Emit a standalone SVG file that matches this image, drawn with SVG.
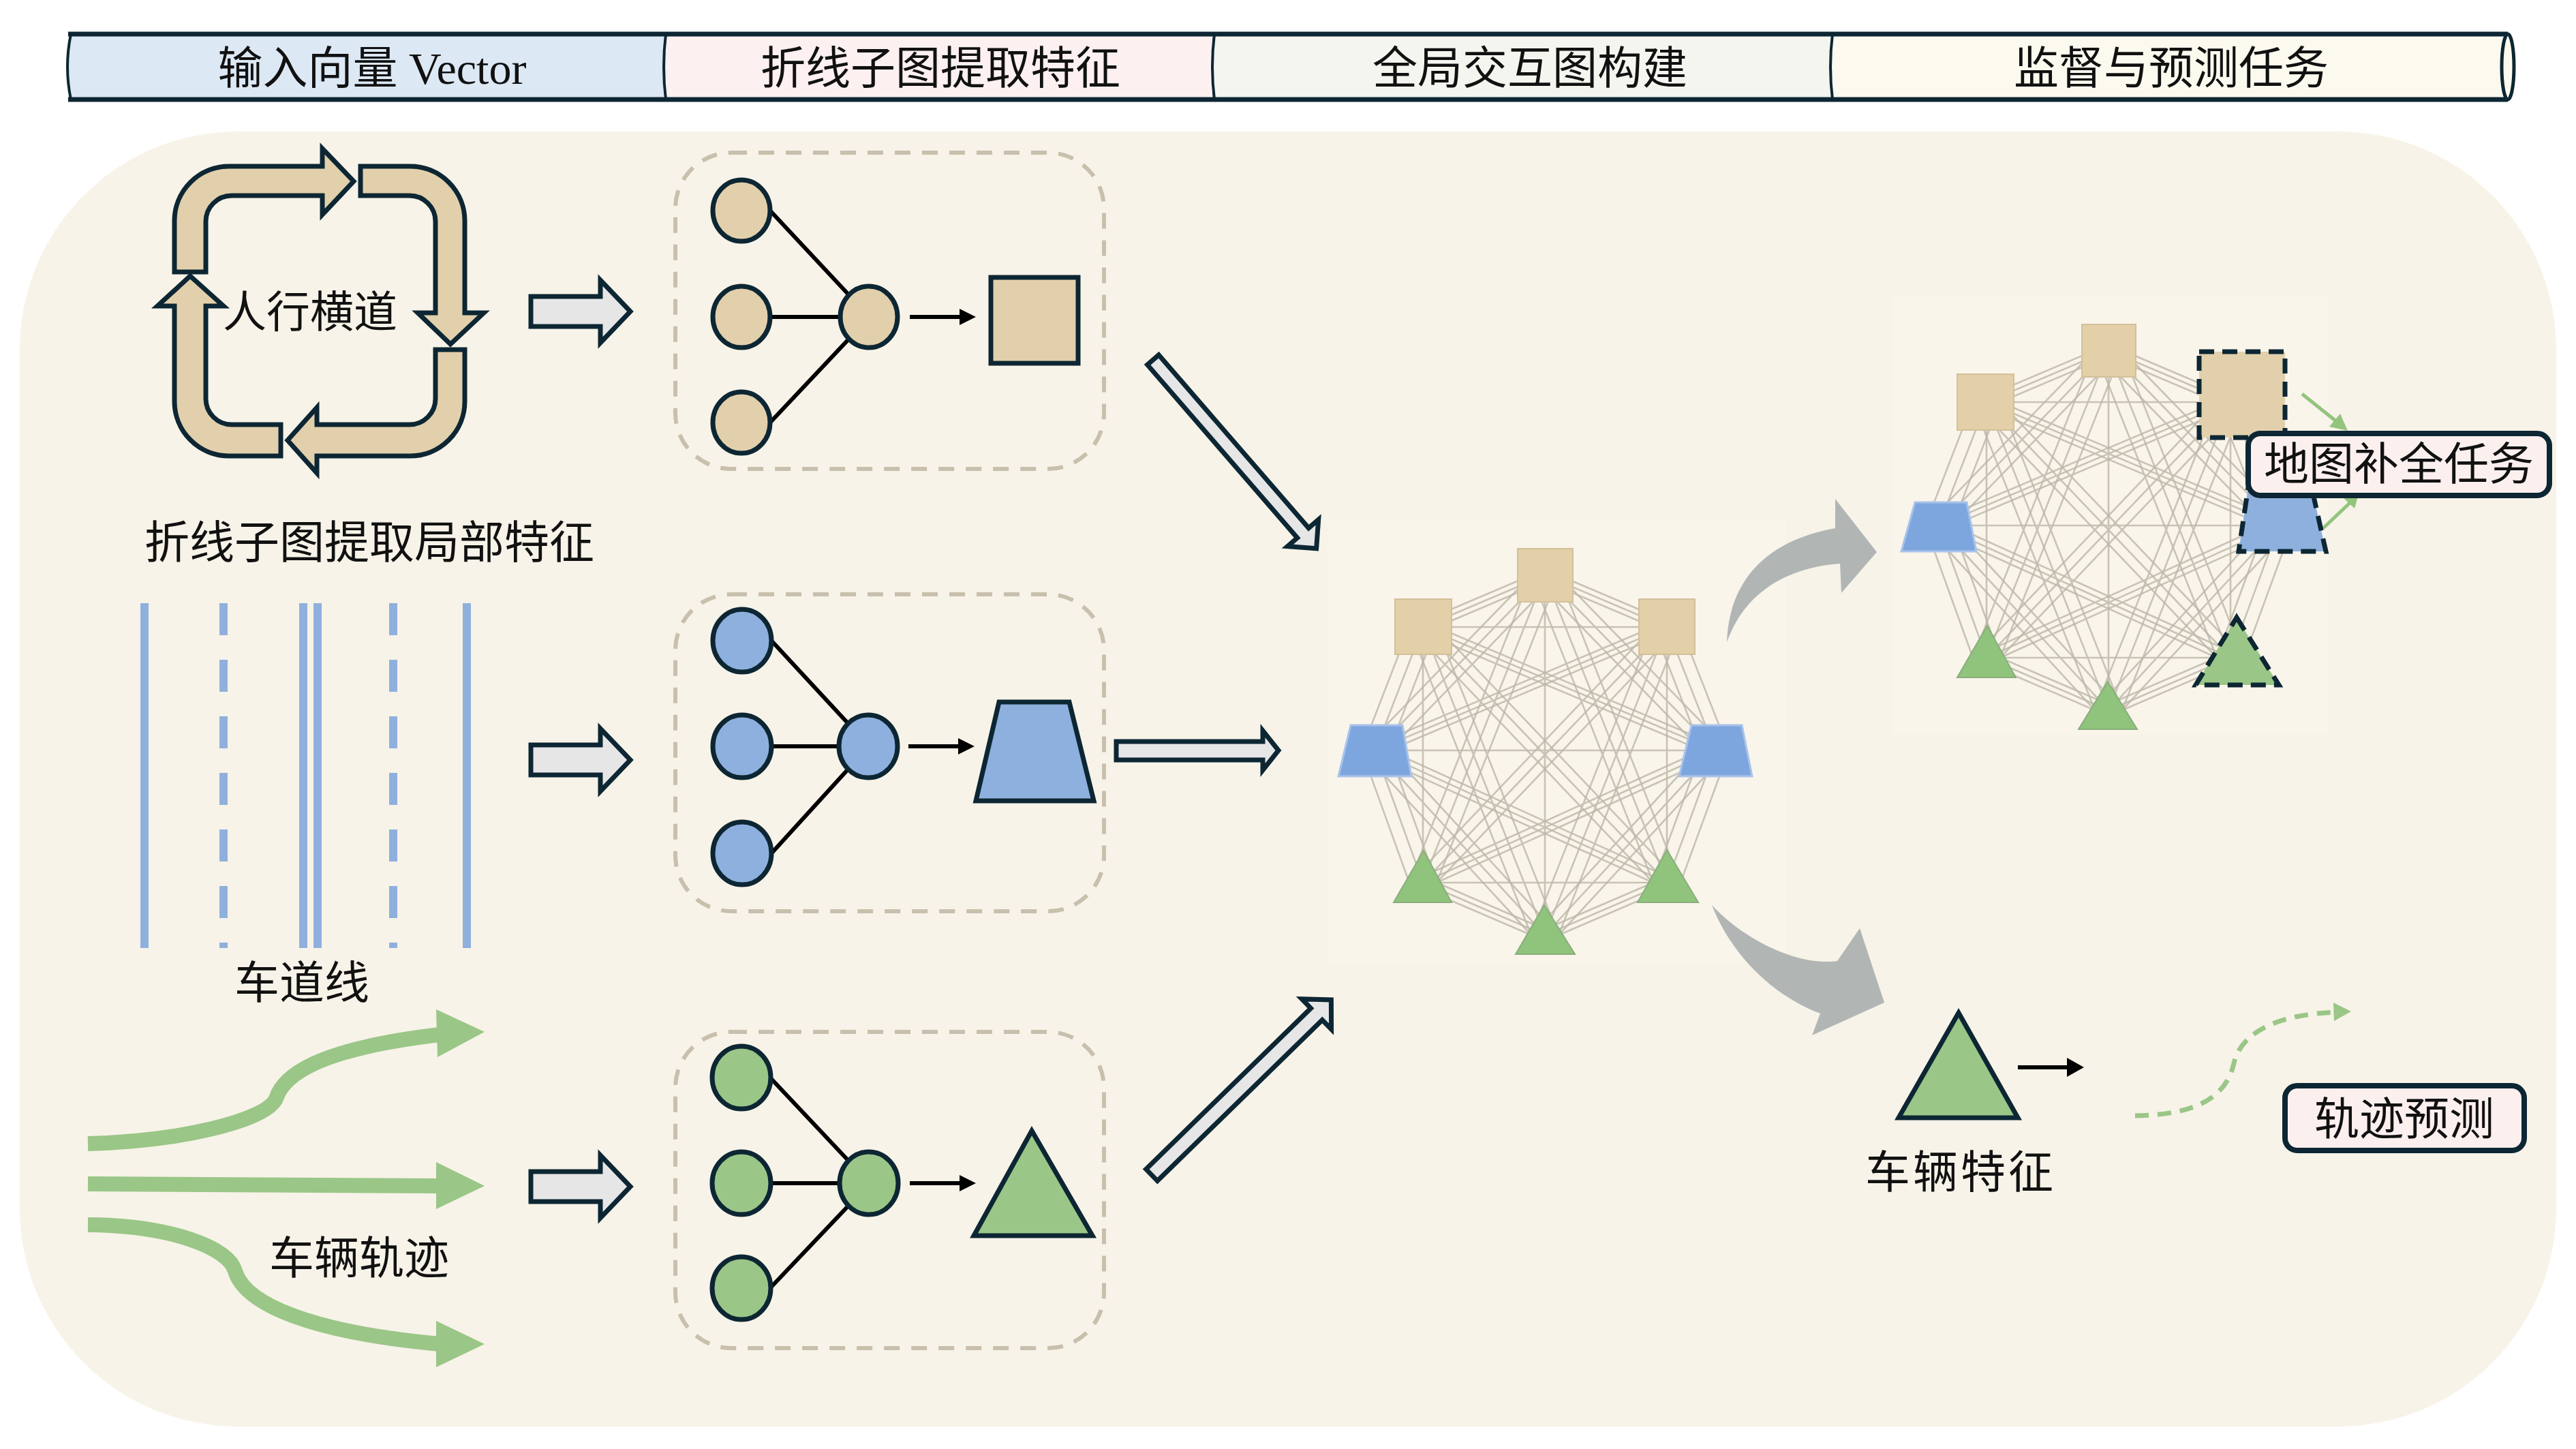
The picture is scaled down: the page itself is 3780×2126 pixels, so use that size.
<svg xmlns="http://www.w3.org/2000/svg" xmlns:xlink="http://www.w3.org/1999/xlink" width="3780" height="2126" viewBox="0 0 3780 2126">
<style>
.t{font-family:"Liberation Serif","Noto Sans CJK SC",serif;font-size:66px;fill:#111;text-anchor:middle}
.dk{stroke:#0d2633;stroke-width:7;stroke-linejoin:miter}
.tan{fill:#e2d0ac}
.blu{fill:#8eb0de}
.grn{fill:#9ac687}
.box{fill:none;stroke:#c8bfad;stroke-width:6;stroke-dasharray:23 17}
.ln{stroke:#000;stroke-width:6;fill:none}
.blk{fill:#e6e6e6;stroke:#0d2633;stroke-width:7;stroke-linejoin:miter}
.gry{fill:#b1b6b5}
.mesh{fill:none;stroke:#bdb7a8;stroke-width:2.6;opacity:0.8}
.gtan{fill:#e3cfa8;stroke:#d3c09a;stroke-width:2}
.gblu{fill:#7ea6de;stroke:#a9c3ea;stroke-width:3}
.ggrn{fill:#90c47c;stroke:#8aad7d;stroke-width:2}
.dash{stroke:#0d2633;stroke-width:7;stroke-dasharray:22 12}
.lane{stroke:#8fb0dd;stroke-width:12}
.traj{fill:none;stroke:#9ac687;stroke-width:22}
.tag{fill:#fcf0ef;stroke:#0d2633;stroke-width:8}
.ga{stroke:#93c47d;stroke-width:5;fill:none}
</style>
<defs>
<g id="mesh">
<path class="mesh" d="M2267,844L2088,920M2267,844L2446,920M2267,844L2018,1101M2267,844L2517,1101M2267,844L2088,1295M2267,844L2446,1295M2267,844L2267,1372M2088,920L2446,920M2088,920L2018,1101M2088,920L2517,1101M2088,920L2088,1295M2088,920L2446,1295M2088,920L2267,1372M2446,920L2018,1101M2446,920L2517,1101M2446,920L2088,1295M2446,920L2446,1295M2446,920L2267,1372M2018,1101L2517,1101M2018,1101L2088,1295M2018,1101L2446,1295M2018,1101L2267,1372M2517,1101L2088,1295M2517,1101L2446,1295M2517,1101L2267,1372M2088,1295L2446,1295M2088,1295L2267,1372M2446,1295L2267,1372"/>
<path class="mesh" d="M2247,844L2068,920M2247,844L2426,920M2247,844L1998,1101M2247,844L2497,1101M2247,844L2068,1295M2247,844L2426,1295M2068,920L1998,1101M2068,920L2497,1101M2068,920L2426,1295M2068,920L2247,1372M2426,920L1998,1101M2426,920L2497,1101M2426,920L2068,1295M2426,920L2247,1372M1998,1101L2068,1295M1998,1101L2426,1295M1998,1101L2247,1372M2497,1101L2068,1295M2497,1101L2426,1295M2497,1101L2247,1372M2068,1295L2247,1372M2426,1295L2247,1372"/>
<path class="mesh" d="M2287,844L2108,920M2287,844L2466,920M2287,844L2038,1101M2287,844L2537,1101M2287,844L2108,1295M2287,844L2466,1295M2108,920L2038,1101M2108,920L2537,1101M2108,920L2466,1295M2108,920L2287,1372M2466,920L2038,1101M2466,920L2537,1101M2466,920L2108,1295M2466,920L2287,1372M2038,1101L2108,1295M2038,1101L2466,1295M2038,1101L2287,1372M2537,1101L2108,1295M2537,1101L2466,1295M2537,1101L2287,1372M2108,1295L2287,1372M2466,1295L2287,1372"/>
</g>
<path id="blkArrow" class="blk" d="M0,-22L102,-22L102,-46L146,0L102,46L102,22L0,22Z"/>
</defs>

<rect width="3780" height="2126" fill="#ffffff"/>
<rect id="panel" x="29" y="193" width="3722" height="1900" rx="320" ry="320" fill="#f7f3e8"/>
<rect x="1948" y="762" width="672" height="650" fill="#f9f5eb"/>
<rect x="2776" y="433" width="640" height="645" fill="#f9f5eb"/>

<g id="header">
<path d="M104,50 L977,50 L977,146 L104,146 Q94,98 104,50Z" fill="#dce8f4"/>
<rect x="977" y="50" width="805" height="96" fill="#fcf0f0"/>
<rect x="1782" y="50" width="907" height="96" fill="#f3f5ee"/>
<rect x="2689" y="50" width="991" height="96" fill="#fcfaef"/>
<path d="M100,50 L3680,50 M100,146 L3680,146" stroke="#0d2633" stroke-width="7" fill="none"/>
<path d="M104,50 Q94,98 104,146 M977,50 Q971,98 977,146 M1782,50 Q1776,98 1782,146 M2689,50 Q2683,98 2689,146" stroke="#0d2633" stroke-width="4" fill="none"/>
<ellipse cx="3680" cy="98" rx="9" ry="48" fill="#fcfaef" stroke="#0d2633" stroke-width="5"/>
<text class="t" x="546" y="123">输入向量 Vector</text>
<text class="t" x="1380" y="123">折线子图提取特征</text>
<text class="t" x="2245" y="123">全局交互图构建</text>
<text class="t" x="3186" y="123">监督与预测任务</text>
</g>

<g id="connectors">
<use href="#mesh"/>
<use href="#mesh" transform="translate(827,-330)"/>
<use href="#blkArrow" x="779" y="457"/>
<use href="#blkArrow" x="779" y="1115"/>
<use href="#blkArrow" x="779" y="1741"/>
<path class="blk" stroke-width="6" d="M1638,1088L1853,1088L1853,1072L1876,1101L1853,1130L1853,1115L1638,1115Z"/>
<path class="blk" stroke-width="6" transform="translate(1692,528) rotate(49.1)" d="M0,-11L336,-11L336,-30L366,0L336,30L336,11L0,11Z"/>
<path class="blk" stroke-width="6" transform="translate(1690,1724) rotate(-44.3)" d="M0,-12L338,-12L338,-31L368,0L338,31L338,12L0,12Z"/>
<path class="gry" d="M2534,942 C2536,880 2565,798 2693,775 L2693,732 L2754,810 L2702,870 L2700,827 C2620,833 2560,870 2534,942Z"/>
<path class="gry" d="M2512,1328 C2560,1380 2640,1418 2696,1410 L2729,1362 L2765,1471 L2659,1519 L2671,1487 C2600,1460 2540,1400 2512,1328Z"/>
<path class="ln" d="M1130,309L1245,432M1130,465L1232,465M1130,620L1245,498"/>
<path class="ln" d="M1335,465L1410,465"/><path d="M1408,453L1432,465L1408,477Z"/>
<path class="ln" d="M1132,940L1245,1062M1132,1095L1230,1095M1132,1252L1245,1128"/>
<path class="ln" d="M1333,1095L1408,1095"/><path d="M1406,1083L1430,1095L1406,1107Z"/>
<path class="ln" d="M1130,1581L1245,1703M1130,1736L1232,1736M1130,1890L1245,1769"/>
<path class="ln" d="M1335,1736L1410,1736"/><path d="M1408,1724L1432,1736L1408,1748Z"/>
<path class="ln" d="M2961,1566L3036,1566" stroke-width="7"/><path d="M3033,1552L3058,1566L3033,1580Z"/>
<path class="ga" d="M3378,578L3428,618"/><path d="M3418,626L3445,632L3434,607Z" fill="#93c47d"/>
<path class="ga" d="M3409,775L3448,738"/><path d="M3439,731L3462,722L3455,746Z" fill="#93c47d"/>
<path d="M3133,1637 C3230,1636 3268,1605 3278,1560 C3290,1510 3350,1488 3428,1485" fill="none" stroke="#9ac687" stroke-width="7" stroke-dasharray="20 13"/>
<path d="M3424,1471L3450,1484L3425,1498Z" fill="#9ac687"/>
</g>

<g id="crosswalk">
<g class="tan dk">
<path d="M256,399 L256,324 A80,80 0 0 1 336,244 L473,244 L473,218 L519,266 L473,315 L473,287 L340,287 A38,38 0 0 0 302,325 L302,399 Z"/>
<path d="M529,244 L602,244 A80,80 0 0 1 682,324 L682,459 L710,459 L661,505 L613,459 L639,459 L639,325 A38,38 0 0 0 601,287 L529,287 Z"/>
<path d="M639,513 L682,513 L682,589 A80,80 0 0 1 602,669 L465,669 L465,694 L422,646 L465,598 L465,623 L601,623 A38,38 0 0 0 639,585 Z"/>
<path d="M412,669 L336,669 A80,80 0 0 1 256,589 L256,449 L231,449 L279,405 L328,449 L302,449 L302,585 A38,38 0 0 0 340,623 L412,623 Z"/>
</g>
<text class="t" x="455" y="480" style="font-size:64px">人行横道</text>
</g>
<text class="t" x="542" y="819">折线子图提取局部特征</text>

<g id="lanes">
<path class="lane" d="M212,885V1391M445,885V1391M466,885V1391M685,885V1391"/>
<path class="lane" d="M328,885V1391M577,885V1391" stroke-dasharray="47 36"/>
<text class="t" x="443" y="1465">车道线</text>
</g>

<g id="trajectories">
<path class="traj" d="M129,1678 C260,1675 390,1645 405,1612 C415,1580 460,1540 645,1518"/>
<path class="grn" d="M640,1481L711,1514L642,1551Z"/>
<path class="traj" d="M129,1737 L645,1740"/>
<path class="grn" d="M640,1705L711,1740L640,1774Z"/>
<path class="traj" d="M129,1797 C250,1798 335,1830 345,1865 C360,1915 460,1955 645,1972"/>
<path class="grn" d="M640,1938L711,1972L640,2006Z"/>
<text class="t" x="527" y="1869">车辆轨迹</text>
</g>

<g id="subgraph-crosswalk">
<rect class="box" x="991" y="224" width="629" height="464" rx="82"/>
<g class="tan dk">
<ellipse cx="1088" cy="309" rx="42" ry="45"/>
<ellipse cx="1088" cy="465" rx="42" ry="45"/>
<ellipse cx="1088" cy="620" rx="42" ry="45"/>
<ellipse cx="1275" cy="465" rx="42" ry="45"/>
<rect x="1454" y="407" width="128" height="126"/>
</g>
</g>

<g id="subgraph-lane">
<rect class="box" x="991" y="872" width="629" height="465" rx="82"/>
<g class="blu dk">
<ellipse cx="1089" cy="940" rx="43" ry="46"/>
<ellipse cx="1089" cy="1095" rx="43" ry="46"/>
<ellipse cx="1089" cy="1252" rx="43" ry="46"/>
<ellipse cx="1274" cy="1095" rx="43" ry="46"/>
<path d="M1466,1030L1569,1030L1605,1175L1432,1175Z"/>
</g>
</g>

<g id="subgraph-vehicle">
<rect class="box" x="991" y="1514" width="629" height="464" rx="82"/>
<g class="grn dk">
<ellipse cx="1088" cy="1581" rx="43" ry="46"/>
<ellipse cx="1088" cy="1736" rx="43" ry="46"/>
<ellipse cx="1088" cy="1890" rx="43" ry="46"/>
<ellipse cx="1275" cy="1736" rx="43" ry="46"/>
<path d="M1514,1659L1603,1813L1429,1813Z"/>
</g>
</g>

<g id="global-graph">
<rect class="gtan" x="2227" y="805" width="81" height="78"/>
<rect class="gtan" x="2047" y="879" width="83" height="81"/>
<rect class="gtan" x="2405" y="879" width="82" height="81"/>
<path class="gblu" d="M1982,1064L2058,1064L2071,1139L1964,1139Z"/>
<path class="gblu" d="M2482,1064L2556,1064L2571,1139L2464,1139Z"/>
<path class="ggrn" d="M2089,1248L2130,1324L2045,1324Z"/>
<path class="ggrn" d="M2446,1247L2492,1324L2403,1324Z"/>
<path class="ggrn" d="M2266,1328L2311,1400L2224,1400Z"/>
</g>

<g id="map-completion-graph">
<rect class="gtan" x="3055" y="476" width="79" height="77"/>
<rect class="gtan" x="2872" y="549" width="83" height="82"/>
<rect class="tan dash" x="3227" y="516" width="126" height="126"/>
<path class="gblu" d="M2810,737L2886,737L2900,809L2790,809Z"/>
<path class="blu dash" d="M3299,715L3392,715L3413,809L3285,809Z"/>
<path class="ggrn" d="M2916,918L2958,994L2872,994Z"/>
<path class="grn dash" d="M3282,906L3344,1005L3222,1005Z"/>
<path class="ggrn" d="M3093,1000L3136,1070L3050,1070Z"/>
</g>

<g id="map-task">
<rect class="tag" x="3299" y="636" width="442" height="91" rx="18"/>
<text class="t" x="3520" y="704">地图补全任务</text>
</g>

<g id="vehicle-feature">
<path class="grn dk" d="M2874,1486L2961,1640L2786,1640Z"/>
<text class="t" x="2877" y="1743" letter-spacing="4">车辆特征</text>
</g>

<g id="trajectory-task">
<rect class="tag" x="3353" y="1593" width="351" height="95" rx="18"/>
<text class="t" x="3528" y="1665">轨迹预测</text>
</g>
</svg>
